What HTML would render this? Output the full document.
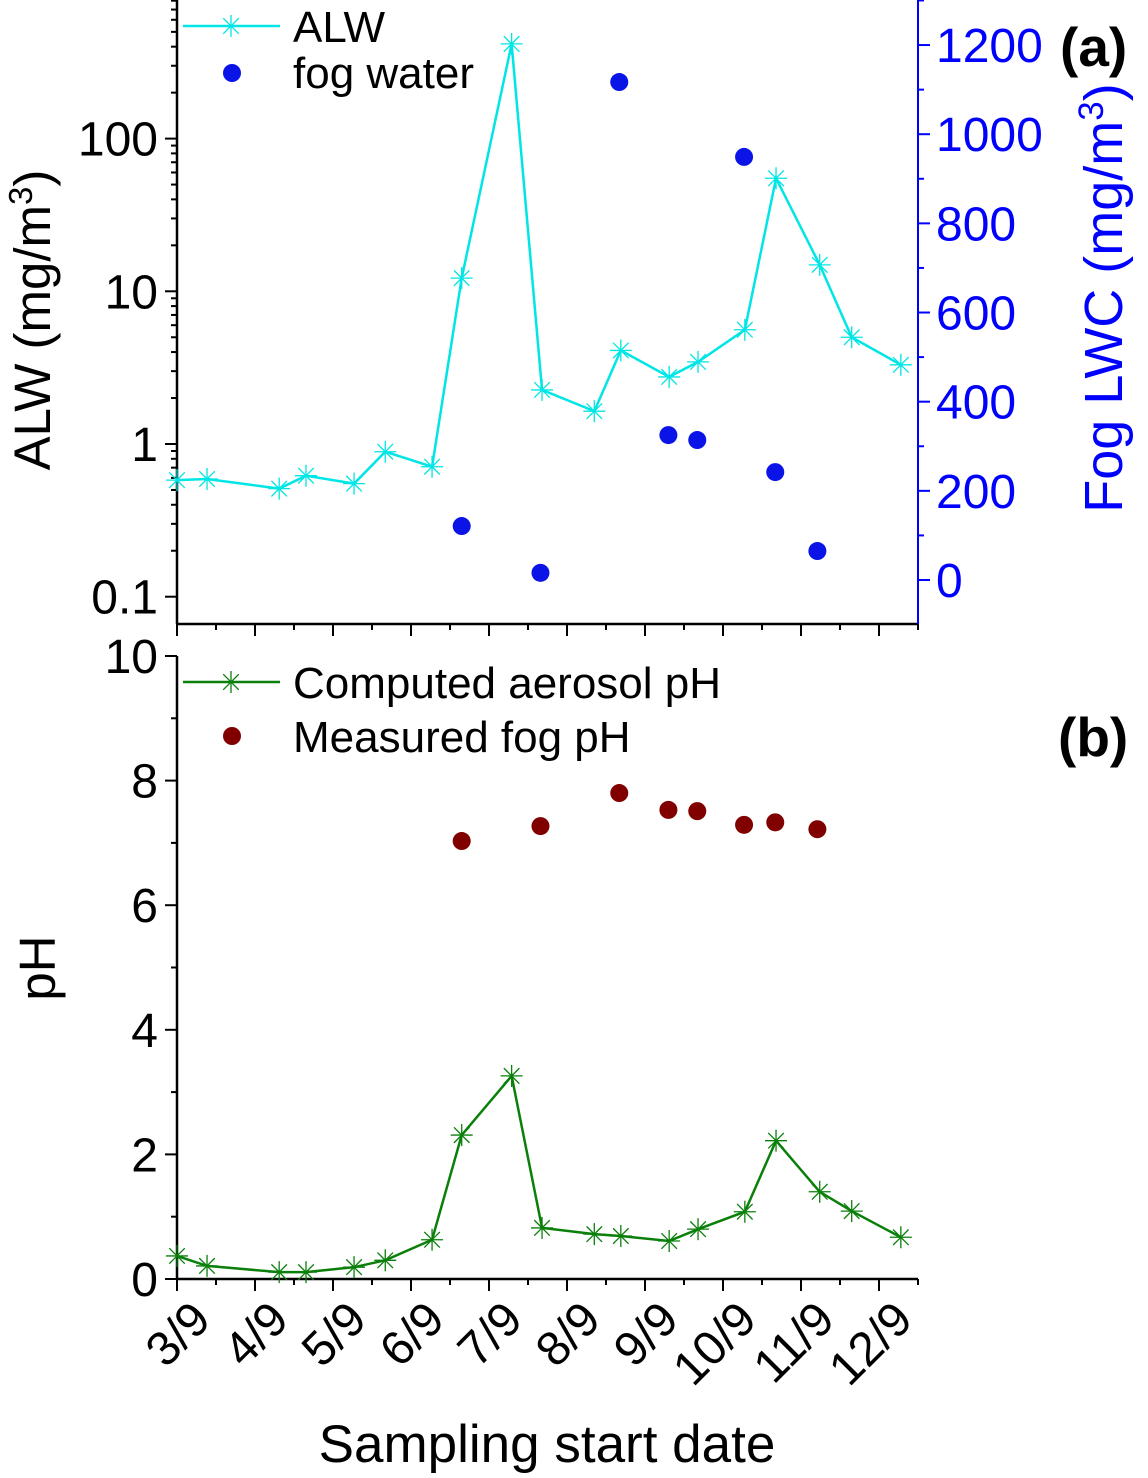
<!DOCTYPE html>
<html><head><meta charset="utf-8"><style>
body{margin:0;background:#fff}
svg text{font-family:"Liberation Sans",Arial,sans-serif}
</style></head><body>
<svg id="c" width="1148" height="1473" xmlns="http://www.w3.org/2000/svg"></svg>
<script>
const dayLabels=["3/9","4/9","5/9","6/9","7/9","8/9","9/9","10/9","11/9","12/9"];
const alwDays=[0,0.385,1.31,1.654,2.27,2.67,3.27,3.65,4.29,4.68,5.35,5.69,6.31,6.68,7.28,7.68,8.24,8.65,9.28];
const alwVals=[0.58,0.59,0.51,0.62,0.55,0.89,0.71,12.2,417,2.26,1.64,4.1,2.75,3.45,5.6,55,14.9,5.0,3.3];
const fogDays=[3.65,4.66,5.67,6.30,6.67,7.27,7.67,8.21];
const fogLWC=[121,16,1117,325,314,949,242,65];
const phVals=[0.37,0.21,0.11,0.11,0.19,0.30,0.63,2.31,3.26,0.82,0.72,0.69,0.61,0.80,1.08,2.22,1.40,1.09,0.67];
const fogPH=[7.03,7.27,7.80,7.53,7.51,7.29,7.33,7.22];
const logTicks=[0.1,1,10,100];
const logTickLabels=["0.1","1","10","100"];
const lwcTicks=[0,200,400,600,800,1000,1200];
const phTicks=[0,2,4,6,8,10];

const S=document.getElementById('c'),NS='http://www.w3.org/2000/svg';
function el(t,a,txt){const e=document.createElementNS(NS,t);for(const k in a)e.setAttribute(k,a[k]);if(txt!=null)e.textContent=txt;S.appendChild(e);return e;}
const X0=177,X1=918;
const xs=d=>177+d*78;
const yA=v=>444-Math.log10(v)*152.7;
const yR=v=>580-v*0.4458;
const yB=v=>1279-v*62.3;
function star(x,y,c,n){const g=el('g',{stroke:c,'stroke-width':1.3});

const r=11;for(let i=0;i<4;i++){const a=i*Math.PI/4;const l=document.createElementNS(NS,'line');l.setAttribute('x1',x-r*Math.cos(a));l.setAttribute('y1',y-r*Math.sin(a));l.setAttribute('x2',x+r*Math.cos(a));l.setAttribute('y2',y+r*Math.sin(a));g.appendChild(l);}}
let e;
e=el('line',{x1:X0,y1:0,x2:X0,y2:624,stroke:'#000','stroke-width':2.5});
e=el('line',{x1:X0,y1:624,x2:X1,y2:624,stroke:'#000','stroke-width':2.5});
e=el('line',{x1:X1,y1:0,x2:X1,y2:624,stroke:'#0000ff','stroke-width':2});
for(let d=-1;d<=4;d++)for(let m=1;m<10;m++){const v=m*Math.pow(10,d);const y=yA(v);if(y<0||y>624)continue;el('line',{x1:X0,x2:X0-(m==1?12:6),y1:y,y2:y,stroke:'#000','stroke-width':2});}
logTicks.forEach((v,i)=>{e=el('text',{x:158,y:yA(v)+17,'font-size':48,'text-anchor':'end'},logTickLabels[i]);});
for(let v=-200;v<=1400;v+=100){const y=yR(v);if(y<0||y>624)continue;el('line',{x1:X1,x2:X1+(v%200==0?12:6),y1:y,y2:y,stroke:'#0000ff','stroke-width':2});}
lwcTicks.forEach(v=>{e=el('text',{x:936,y:yR(v)+17,'font-size':48,fill:'#0000ff'},v);});
for(let i=0;i<=19;i++){const x=X0+i*39;if(x>X1)break;el('line',{x1:x,x2:x,y1:624,y2:624+(i%2?6:12),stroke:'#000','stroke-width':2});el('line',{x1:x,x2:x,y1:1279,y2:1279+(i%2?6:12),stroke:'#000','stroke-width':2});}
e=el('text',{transform:'translate(50,320) rotate(-90)','font-size':51,'text-anchor':'middle'});e.innerHTML='ALW (mg/m<tspan dy="-18" font-size="33">3</tspan><tspan dy="18">)</tspan>';
e=el('text',{transform:'translate(1122,298) rotate(-90)','font-size':54,'text-anchor':'middle',fill:'#0000ff'});e.innerHTML='Fog LWC (mg/m<tspan dy="-19" font-size="35">3</tspan><tspan dy="19">)</tspan>';
e=el('text',{x:1060,y:66,'font-size':55,'font-weight':'bold'},'(a)');
e=el('polyline',{points:alwDays.map((d,i)=>xs(d)+','+yA(alwVals[i])).join(' '),fill:'none',stroke:'#00e5e5','stroke-width':2.5});
alwDays.forEach((d,i)=>star(xs(d),yA(alwVals[i]),'#00e5e5','alw-point'));
fogDays.forEach((d,i)=>{e=el('circle',{cx:xs(d),cy:yR(fogLWC[i]),r:9,fill:'#0a14e6'});});
el('line',{x1:183,x2:280,y1:26,y2:26,stroke:'#00e5e5','stroke-width':2.5});star(231,26,'#00e5e5','legend-alw-marker');
e=el('text',{x:293,y:42,'font-size':44},'ALW');
el('circle',{cx:232,cy:73,r:9,fill:'#0a14e6'});
e=el('text',{x:293,y:88,'font-size':44},'fog water');
e=el('line',{x1:X0,y1:656,x2:X0,y2:1279,stroke:'#000','stroke-width':2.5});
e=el('line',{x1:X0,y1:1279,x2:X1,y2:1279,stroke:'#000','stroke-width':2.5});
for(let v=0;v<=10;v++){const y=yB(v);el('line',{x1:X0,x2:X0-(v%2?6:12),y1:y,y2:y,stroke:'#000','stroke-width':2});}
phTicks.forEach(v=>{e=el('text',{x:158,y:yB(v)+17,'font-size':48,'text-anchor':'end'},v);});
e=el('text',{transform:'translate(55,968) rotate(-90)','font-size':51,'text-anchor':'middle'},'pH');
e=el('text',{x:1058,y:756,'font-size':55,'font-weight':'bold'},'(b)');
e=el('polyline',{points:alwDays.map((d,i)=>xs(d)+','+yB(phVals[i])).join(' '),fill:'none',stroke:'#0a800a','stroke-width':2.5});
alwDays.forEach((d,i)=>star(xs(d),yB(phVals[i]),'#0a800a','aerosol-ph-point'));
fogDays.forEach((d,i)=>{e=el('circle',{cx:xs(d),cy:yB(fogPH[i]),r:9,fill:'#800000'});});
el('line',{x1:183,x2:280,y1:682,y2:682,stroke:'#0a800a','stroke-width':2.5});star(231,682,'#0a800a','legend-ph-marker');
e=el('text',{x:293,y:698,'font-size':44},'Computed aerosol pH');
el('circle',{cx:232,cy:736,r:9,fill:'#800000'});
e=el('text',{x:293,y:752,'font-size':44},'Measured fog pH');
dayLabels.forEach((l,i)=>{const x=xs(i);e=el('text',{transform:`translate(${x+36},1322) rotate(-45)`,'font-size':48,'text-anchor':'end'},l);});
e=el('text',{x:547,y:1462,'font-size':53,'text-anchor':'middle'},'Sampling start date');
</script>
</body></html>
